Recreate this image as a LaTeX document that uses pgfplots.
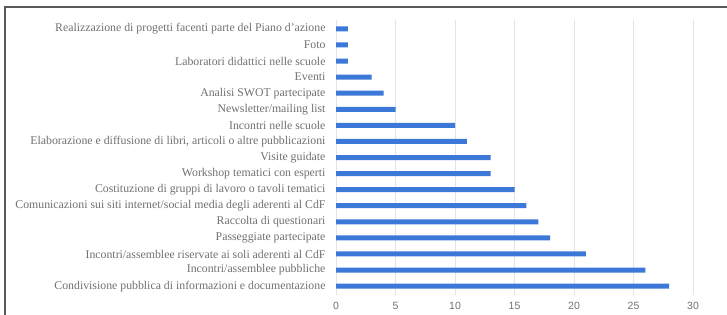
\documentclass[border=0pt]{standalone}
\usepackage{fontspec}
\setmainfont{Liberation Serif}
\setsansfont{Liberation Sans}
\usepackage{pgfplots}
\pgfplotsset{compat=1.18}
\definecolor{barblue}{HTML}{3C78D8}
\definecolor{lbl}{HTML}{707070}
\definecolor{grd}{HTML}{E4E4E4}
\begin{document}
\begin{tikzpicture}[x=1pt,y=1pt]
\begin{axis}[
  at={(336pt,19pt)}, anchor=south west,
  scale only axis, width=357pt, height=275pt,
  xmin=0, xmax=30, ymin=-0.55, ymax=16.55,
  xbar, bar width=5pt,
  axis line style={draw=none},
  xtick={0,5,10,15,20,25,30},
  xticklabels={0,5,10,15,20,25,30},
  xmajorgrids, grid style={grd, line width=0.8pt},
  major tick length=0pt,
  xticklabel style={font=\sffamily\fontsize{10.5}{12}\selectfont, text=lbl, yshift=-3.5pt},
  ytick={0,...,16},
  yticklabels={
    Condivisione pubblica di informazioni e documentazione,
    Incontri/assemblee pubbliche,
    Incontri/assemblee riservate ai soli aderenti al CdF,
    Passeggiate partecipate,
    Raccolta di questionari,
    Comunicazioni sui siti internet/social media degli aderenti al CdF,
    Costituzione di gruppi di lavoro o tavoli tematici,
    Workshop tematici con esperti,
    Visite guidate,
    {Elaborazione e diffusione di libri, articoli o altre pubblicazioni},
    Incontri nelle scuole,
    Newsletter/mailing list,
    Analisi SWOT partecipate,
    Eventi,
    Laboratori didattici nelle scuole,
    Foto,
    Realizzazione di progetti facenti parte del Piano d'azione},
  yticklabel style={font=\fontsize{11.8}{13}\selectfont, text=lbl, xshift=-7pt},
]
\addplot[fill=barblue, draw=none] coordinates {
 (28,0) (26,1) (21,2) (18,3) (17,4) (16,5) (15,6) (13,7) (13,8)
 (11,9) (10,10) (5,11) (4,12) (3,13) (1,14) (1,15) (1,16)};
\end{axis}
\draw[line width=1.5pt, color=black!65] (5,-5) -- (5,307) -- (735,307);
\pgfresetboundingbox
\useasboundingbox (0,0) rectangle (727,314);
\end{tikzpicture}
\end{document}
